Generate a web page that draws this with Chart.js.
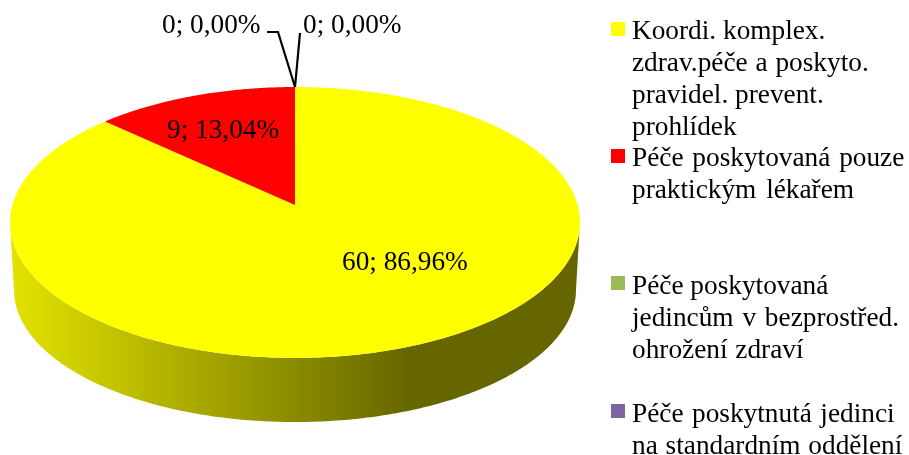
<!DOCTYPE html>
<html lang="cs">
<head>
<meta charset="utf-8">
<title>Péče</title>
<style>html,body{margin:0;padding:0;background:#fff}canvas{display:block}</style>
<script src="https://cdn.jsdelivr.net/npm/chart.js@4/dist/chart.umd.min.js"></script>
</head>
<body>
<canvas id="c" width="909" height="455"></canvas>
<script>
const categories = [
  ["Koordi. komplex.", "zdrav.péče a poskyto.", "pravidel. prevent.", "prohlídek"],
  ["Péče poskytovaná pouze", "praktickým lékařem"],
  ["Péče poskytovaná", "jedincům v bezprostřed.", "ohrožení zdraví"],
  ["Péče poskytnutá jedinci", "na standardním oddělení"]
];
const values = [60, 9, 0, 0];
const colors = ["#FFFF00", "#FF0000", "#9BBB59", "#8064A2"];

// layout of the text and of the tilted pie
const FONT = '27.3px "Liberation Serif"';
const legendBaselines = [[39, 71, 103, 135], [166, 198], [294, 326, 358], [422, 454]];
const legendWordGaps = [[0, 1, 0, 0], [2, 3], [0, 2, 1], [1.7, 1]];
const legendMarkerTop = [22, 149, 276, 404];
const labelAnchors = [[342, 270], [167, 138], [162, 33], [303, 33]];
const P = {cx: 295, cy: 205, rx: 282.6, ry: 133.2, k: -0.129, midY: 222.5, depth: 67.5, sx: 0.986, sy: 0.975};

function project(theta) {
  const u = Math.sin(theta), v = -Math.cos(theta), d = 1 + P.k * v;
  return [P.cx + P.rx * u / d, P.cy + P.ry * v / d];
}
function lower(p) {
  return [P.cx + (p[0] - P.cx) * P.sx, P.midY + P.depth + (p[1] - P.midY) * P.sy];
}

const pie3d = {
  id: 'pie3d',
  beforeDatasetsDraw(chart) {
    const ctx = chart.ctx, arcs = chart.getDatasetMeta(0).data;
    // side wall: front rim between the widest points of the disc
    const tA = Math.acos(P.k), tB = 2 * Math.PI - tA;
    const g = ctx.createLinearGradient(14, 0, 410, 0);
    g.addColorStop(0, '#E2E200');
    g.addColorStop(1, '#666600');
    ctx.save();
    ctx.beginPath();
    const n = 240, rim = [];
    for (let i = 0; i <= n; i++) rim.push(project(tA + (tB - tA) * i / n));
    rim.forEach((p, i) => i ? ctx.lineTo(p[0], p[1]) : ctx.moveTo(p[0], p[1]));
    rim.slice().reverse().forEach(p => { const q = lower(p); ctx.lineTo(q[0], q[1]); });
    ctx.closePath();
    ctx.fillStyle = g;
    ctx.fill();
    // top face: one path per arc element, from the angles Chart.js computed
    arcs.forEach(arc => {
      const a0 = arc.startAngle + Math.PI / 2, a1 = arc.endAngle + Math.PI / 2;
      if (a1 - a0 < 1e-6) return;
      ctx.beginPath();
      ctx.moveTo(P.cx, P.cy);
      const m = Math.max(2, Math.ceil((a1 - a0) * 120));
      for (let i = 0; i <= m; i++) {
        const p = project(a0 + (a1 - a0) * i / m);
        ctx.lineTo(p[0], p[1]);
      }
      ctx.closePath();
      ctx.fillStyle = arc.options.backgroundColor;
      ctx.fill();
    });
    ctx.restore();
    return false;
  },
  afterDraw(chart) {
    const ctx = chart.ctx;
    const total = values.reduce((a, b) => a + b, 0);
    ctx.save();
    // leader lines of the two zero slices
    const top = project(0);
    ctx.strokeStyle = '#000';
    ctx.lineWidth = 2.2;
    ctx.beginPath();
    ctx.moveTo(267, 32); ctx.lineTo(278, 32); ctx.lineTo(top[0], top[1]);
    ctx.moveTo(top[0], top[1]); ctx.lineTo(300, 33);
    ctx.stroke();
    // data labels
    ctx.font = FONT;
    ctx.fillStyle = '#000';
    ctx.textAlign = 'left';
    ctx.textBaseline = 'alphabetic';
    values.forEach((v, i) => {
      const txt = v + '; ' + (v / total * 100).toFixed(2).replace('.', ',') + '%';
      ctx.fillText(txt, labelAnchors[i][0], labelAnchors[i][1]);
    });
    // legend
    categories.forEach((lines, i) => {
      ctx.fillStyle = colors[i];
      ctx.fillRect(611, legendMarkerTop[i], 14, 14);
      ctx.fillStyle = '#000';
      lines.forEach((t, j) => {
        ctx.wordSpacing = legendWordGaps[i][j] + 'px';
        ctx.fillText(t, 632, legendBaselines[i][j]);
      });
    });
    ctx.restore();
  }
};

new Chart(document.getElementById('c'), {
  type: 'pie',
  data: {
    labels: categories.map(l => l.join(' ')),
    datasets: [{data: values, backgroundColor: colors, borderWidth: 0}]
  },
  options: {
    responsive: false,
    animation: false,
    plugins: {legend: {display: false}, tooltip: {enabled: false}}
  },
  plugins: [pie3d]
});
</script>
</body>
</html>
